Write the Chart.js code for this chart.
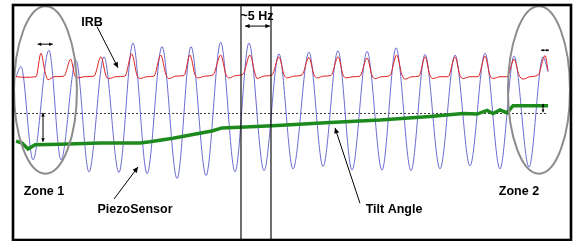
<!DOCTYPE html>
<html>
<head>
<meta charset="utf-8">
<script src="https://cdn.jsdelivr.net/npm/chart.js@4/dist/chart.umd.min.js"></script>
<style>
  html, body { margin: 0; padding: 0; background: #fff; }
  #wrap { width: 580px; height: 241px; position: relative; }
</style>
</head>
<body>
<div id="wrap"><canvas id="chart"></canvas></div>
<script>
// PiezoSensor signal: start, alternating peaks / troughs, end (time in ms, value in V)
const piezoTime = [21, 55, 138, 248, 331, 435, 524, 628, 731, 828, 925, 1028, 1132, 1228, 1332,
  1433, 1532, 1628, 1732, 1835, 1932, 2042, 2139, 2242, 2339, 2443, 2546, 2643, 2746, 2843,
  2946, 3050, 3153, 3257, 3360, 3457, 3560, 3657, 3692];
const piezoValue = [0.61, 0.78, -0.77, 1.05, -0.77, 0.88, -0.97, 0.94, -0.98, 1.17, -1.00, 1.11, -1.08, 1.11, -1.03,
  1.18, -0.97, 1.17, -0.95, 0.99, -0.92, 1.02, -0.88, 1.04, -0.94, 1.03, -0.94, 1.09, -0.95, 0.98,
  -0.92, 0.97, -0.87, 1.00, -0.92, 0.95, -0.89, 0.94, 0.69];

// IRB signal
const irbTime = [21, 83, 159, 193, 221, 242, 283, 352, 398, 428, 449, 490, 559, 607, 642, 662, 711,
  773, 819, 856, 876, 925, 973, 1019, 1056, 1076, 1125, 1180, 1221, 1256, 1277, 1325, 1380, 1433,
  1470, 1490, 1539, 1587, 1635, 1670, 1684, 1732, 1787, 1835, 1870, 1891, 1939, 1994, 2042, 2077,
  2098, 2146, 2194, 2243, 2277, 2298, 2346, 2394, 2443, 2477, 2498, 2546, 2601, 2647, 2684, 2705,
  2753, 2801, 2843, 2877, 2898, 2946, 3002, 3050, 3084, 3105, 3153, 3209, 3257, 3291, 3312, 3360,
  3409, 3457, 3491, 3518, 3567, 3623, 3671, 3692];
const irbValue = [0.61, 0.60, 0.61, 1.00, 0.69, 0.56, 0.61, 0.62, 0.90, 0.62, 0.59, 0.61, 0.62, 0.94, 0.62, 0.58, 0.61,
  0.62, 0.99, 0.63, 0.58, 0.61, 0.62, 0.97, 0.64, 0.58, 0.62, 0.63, 0.97, 0.64, 0.59, 0.62, 0.64, 0.97,
  0.64, 0.59, 0.63, 0.65, 0.97, 0.66, 0.58, 0.62, 0.64, 0.94, 0.64, 0.59, 0.62, 0.64, 0.93, 0.64,
  0.59, 0.62, 0.63, 0.94, 0.64, 0.59, 0.61, 0.62, 0.92, 0.63, 0.58, 0.61, 0.63, 0.97, 0.64, 0.57,
  0.61, 0.62, 0.94, 0.63, 0.58, 0.61, 0.61, 0.94, 0.63, 0.58, 0.61, 0.61, 0.95, 0.63, 0.58, 0.61,
  0.61, 0.90, 0.64, 0.57, 0.61, 0.64, 0.96, 0.71];

// Tilt angle
const tiltTime = [21, 62, 104, 152, 324, 600, 876, 945, 1104, 1242, 1373, 1442, 1566, 1822, 2187,
  2532, 2877, 3105, 3202, 3271, 3312, 3360, 3409, 3450, 3692];
const tiltValue = [-0.46, -0.49, -0.59, -0.52, -0.51, -0.49, -0.49, -0.47, -0.41, -0.35, -0.29, -0.24, -0.23, -0.20, -0.15,
  -0.11, -0.05, 0.00, -0.01, 0.05, 0.00, 0.06, 0.01, 0.13, 0.13];

// one period (~5 Hz) markers and reference level
const markerTime = [1573, 1780];
const refTime = [21, 3692];
const refLevel = 0;

const xMin = 0, xMax = 3850, yMin = -2.1, yMax = 1.8;

const toPoints = (xs, ys) => xs.map((x, i) => ({ x: x, y: ys[i] }));

const labels = [
  { text: "IRB", t: 545, v: 1.51 },
  { text: "~5 Hz", t: 1684, v: 1.61 },
  { text: "Zone 1", t: 214, v: -1.29 },
  { text: "PiezoSensor", t: 842, v: -1.60 },
  { text: "Tilt Angle", t: 2629, v: -1.60 },
  { text: "Zone 2", t: 3491, v: -1.29 },
];

const arrows = [
  { t1: 580, v1: 1.44, t2: 724, v2: 0.76, both: false, head: 6 },
  { t1: 697, v1: -1.42, t2: 862, v2: -0.89, both: false, head: 6 },
  { t1: 2394, v1: -1.49, t2: 2222, v2: -0.24, both: false, head: 6 },
  { t1: 1601, v1: 1.45, t2: 1773, v2: 1.45, both: true, head: 5 },
  { t1: 170, v1: 1.15, t2: 274, v2: 1.15, both: true, head: 4 },
  { t1: 207, v1: 0.01, t2: 207, v2: -0.47, both: true, head: 4 },
  { t1: 3643, v1: 1.05, t2: 3698, v2: 1.05, both: true, head: 3 },
  { t1: 3657, v1: 0.16, t2: 3657, v2: 0.02, both: true, head: 3 },
];

const zones = [
  { t: 224, v: 0.39, rt: 217, rv: 1.39 },
  { t: 3629, v: 0.39, rt: 214, rv: 1.39 },
];

function arrowHead(ctx, x1, y1, x2, y2, size) {
  const a = Math.atan2(y2 - y1, x2 - x1);
  ctx.beginPath();
  ctx.moveTo(x2, y2);
  ctx.lineTo(x2 - size * Math.cos(a - 0.45), y2 - size * Math.sin(a - 0.45));
  ctx.lineTo(x2 - size * Math.cos(a + 0.45), y2 - size * Math.sin(a + 0.45));
  ctx.closePath();
  ctx.fill();
}

const annotations = {
  id: "annotations",
  afterDatasetsDraw(chart) {
    const ctx = chart.ctx;
    const px = (t) => chart.scales.x.getPixelForValue(t);
    const py = (v) => chart.scales.y.getPixelForValue(v);
    ctx.save();

    // zone ellipses
    ctx.strokeStyle = "#8c8c8c";
    ctx.lineWidth = 2;
    zones.forEach((z) => {
      const cx = px(z.t), cy = py(z.v);
      ctx.beginPath();
      ctx.ellipse(cx, cy, px(z.t + z.rt) - cx, py(z.v - z.rv) - cy, 0, 0, Math.PI * 2);
      ctx.stroke();
    });

    // arrows
    ctx.strokeStyle = "#000";
    ctx.fillStyle = "#000";
    ctx.lineWidth = 1;
    arrows.forEach((a) => {
      const x1 = px(a.t1), y1 = py(a.v1), x2 = px(a.t2), y2 = py(a.v2);
      ctx.beginPath();
      ctx.moveTo(x1, y1);
      ctx.lineTo(x2, y2);
      ctx.stroke();
      arrowHead(ctx, x1, y1, x2, y2, a.head);
      if (a.both) arrowHead(ctx, x2, y2, x1, y1, a.head);
    });

    // text labels
    ctx.font = "bold 12.5px Arial, 'Liberation Sans', sans-serif";
    ctx.textAlign = "center";
    ctx.textBaseline = "middle";
    labels.forEach((l) => ctx.fillText(l.text, px(l.t), py(l.v)));

    // frame
    const ca = chart.chartArea;
    ctx.lineWidth = 2.6;
    ctx.strokeRect(ca.left, ca.top, ca.right - ca.left, ca.bottom - ca.top);
    ctx.restore();
  },
};

const markerSets = markerTime.map((t) => ({
  data: [{ x: t, y: yMax }, { x: t, y: yMin }],
  borderColor: "#111",
  borderWidth: 1.2,
  pointRadius: 0,
}));

new Chart(document.getElementById("chart"), {
  type: "line",
  data: {
    datasets: [
      ...markerSets,
      {
        label: "Tilt Angle",
        data: toPoints(tiltTime, tiltValue),
        borderColor: "#1d8a1d",
        borderWidth: 3.5,
        pointRadius: 0,
        tension: 0,
      },
      {
        label: "IRB",
        data: toPoints(irbTime, irbValue),
        borderColor: "#e02020",
        borderWidth: 1,
        pointRadius: 0,
        cubicInterpolationMode: "monotone",
      },
      {
        label: "PiezoSensor",
        data: toPoints(piezoTime, piezoValue),
        borderColor: "#6a6ad0",
        borderWidth: 1,
        pointRadius: 0,
        cubicInterpolationMode: "monotone",
      },
      {
        label: "Reference",
        data: refTime.map((t) => ({ x: t, y: refLevel })),
        borderColor: "#333",
        borderWidth: 1,
        borderDash: [2, 2],
        pointRadius: 0,
      },
    ],
  },
  options: {
    responsive: true,
    maintainAspectRatio: false,
    animation: false,
    layout: { padding: { left: 13, top: 5, right: 9, bottom: 1 } },
    plugins: { legend: { display: false }, tooltip: { enabled: false } },
    scales: {
      x: { type: "linear", min: xMin, max: xMax, display: false },
      y: { min: yMin, max: yMax, display: false },
    },
  },
  plugins: [annotations],
});
</script>
</body>
</html>
